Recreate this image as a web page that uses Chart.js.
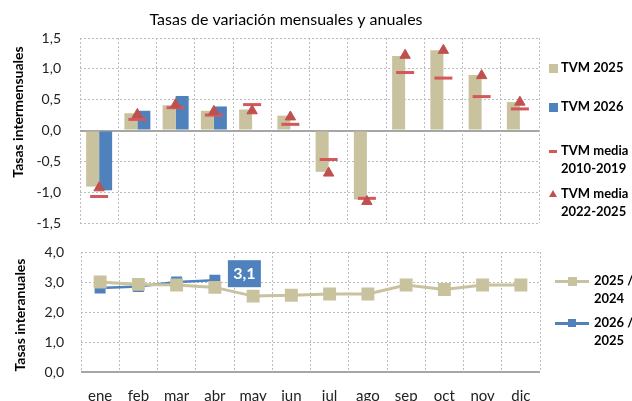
<!DOCTYPE html>
<html>
<head>
<meta charset="utf-8">
<script src="https://cdn.jsdelivr.net/npm/chart.js@4"></script>
<style>
  body { margin: 0; width: 632px; height: 401px; overflow: hidden; background: #fff; position: relative; }
  canvas { position: absolute; left: 0; }
</style>
</head>
<body>
<canvas id="chart1" width="632" height="235" style="top:0"></canvas>
<canvas id="chart2" width="632" height="175" style="top:235px"></canvas>
<script>
const months = ['ene', 'feb', 'mar', 'abr', 'may', 'jun', 'jul', 'ago', 'sep', 'oct', 'nov', 'dic'];

// tasas intermensuales
const tvm2025 = [-0.91, 0.28, 0.41, 0.32, 0.34, 0.24, -0.67, -1.12, 1.21, 1.30, 0.90, 0.46];
const tvm2026 = [-0.97, 0.32, 0.56, 0.39];
const tvmMedia1019 = [-1.07, 0.18, 0.37, 0.25, 0.42, 0.10, -0.47, -1.10, 0.94, 0.85, 0.55, 0.35];
const tvmMedia2225 = [-0.93, 0.26, 0.42, 0.31, 0.32, 0.22, -0.69, -1.15, 1.22, 1.30, 0.89, 0.46];

// tasas interanuales
const tia2025 = [3.0, 2.92, 2.9, 2.82, 2.53, 2.56, 2.6, 2.6, 2.9, 2.75, 2.9, 2.9];
const tia2026 = [2.8, 2.85, 3.0, 3.06];

const beige = '#c9c29e';
const azul = '#4f81bd';
const rojo = '#c0504d';
const rojoClaro = '#d4575a';
const gridCol = '#bcbcbc';

Chart.defaults.font.family = 'Lato';

const fmt = (v) => v.toFixed(1).replace('.', ',');
const isZero = (c) => c.tick && c.tick.value === 0;

// textos: titulo, titulo del eje y leyenda, pintados en el canvas
function texto(ctx, s, x, y, font, align) {
  ctx.font = font;
  ctx.fillStyle = '#000';
  ctx.textAlign = align || 'left';
  ctx.textBaseline = 'middle';
  ctx.fillText(s, x, y);
}
function tituloY(ctx, s, x, y) {
  ctx.save();
  ctx.translate(x, y);
  ctx.rotate(-Math.PI / 2);
  texto(ctx, s, 0, 0, 'bold 14px Lato', 'center');
  ctx.restore();
}

const textos1 = {
  id: 'textos1',
  afterDraw(chart) {
    const ctx = chart.ctx;
    ctx.save();
    texto(ctx, 'Tasas de variación mensuales y anuales', 286, 20, '16px Lato', 'center');
    tituloY(ctx, 'Tasas intermensuales', 18, 112);
    const f = 'bold 13px Lato';
    ctx.fillStyle = beige; ctx.fillRect(549, 64, 9, 9);
    texto(ctx, 'TVM 2025', 561, 68, f);
    ctx.fillStyle = azul; ctx.fillRect(549, 103, 9, 9);
    texto(ctx, 'TVM 2026', 561, 107, f);
    ctx.fillStyle = rojoClaro; ctx.fillRect(549, 150, 8, 3);
    texto(ctx, 'TVM media', 561, 151, f);
    texto(ctx, '2010-2019', 561, 169, f);
    ctx.fillStyle = rojo;
    ctx.beginPath(); ctx.moveTo(553, 190); ctx.lineTo(557, 197); ctx.lineTo(549, 197); ctx.closePath(); ctx.fill();
    texto(ctx, 'TVM media', 561, 194, f);
    texto(ctx, '2022-2025', 561, 212, f);
    ctx.restore();
  }
};

const textos2 = {
  id: 'textos2',
  afterDraw(chart) {
    const ctx = chart.ctx;
    ctx.save();
    tituloY(ctx, 'Tasas interanuales', 20, 80);
    const f = 'bold 13px Lato';
    ctx.fillStyle = beige; ctx.fillRect(555, 45, 34, 3); ctx.fillRect(568, 42, 9, 9);
    texto(ctx, '2025 /', 594, 46, f);
    texto(ctx, '2024', 594, 64, f);
    ctx.fillStyle = azul; ctx.fillRect(555, 87, 34, 3); ctx.fillRect(568, 84, 8, 8);
    texto(ctx, '2026 /', 594, 88, f);
    texto(ctx, '2025', 594, 106, f);
    ctx.restore();
  }
};

// etiqueta del ultimo dato 2026
const etiqueta = {
  id: 'etiqueta',
  afterDatasetsDraw(chart) {
    const meta = chart.getDatasetMeta(1);
    const i = tia2026.length - 1;
    const p = meta.data[i];
    const ctx = chart.ctx;
    ctx.save();
    ctx.fillStyle = azul;
    ctx.fillRect(p.x + 13, p.y - 20, 33, 27);
    ctx.fillStyle = '#fff';
    ctx.font = 'bold 16px Lato';
    ctx.textAlign = 'center';
    ctx.textBaseline = 'middle';
    ctx.fillText(fmt(tia2026[i]), p.x + 29.5, p.y - 6);
    ctx.restore();
  }
};

new Chart(document.getElementById('chart1'), {
  type: 'bar',
  data: {
    labels: months,
    datasets: [
      {
        type: 'line', label: 'TVM media 2022-2025', data: tvmMedia2225, showLine: false,
        pointStyle: 'triangle', pointRadius: 6, borderWidth: 1,
        borderColor: rojo, backgroundColor: rojo
      },
      {
        type: 'line', label: 'TVM media 2010-2019', data: tvmMedia1019, showLine: false,
        pointStyle: 'line', pointRadius: 9, borderWidth: 3, borderColor: rojoClaro
      },
      { label: 'TVM 2025', data: tvm2025, backgroundColor: beige },
      { label: 'TVM 2026', data: tvm2026, backgroundColor: azul }
    ]
  },
  options: {
    responsive: false,
    animation: false,
    categoryPercentage: 0.68,
    barPercentage: 1.0,
    layout: { padding: { top: 38, right: 93, bottom: 11, left: 0 } },
    plugins: { legend: { display: false }, tooltip: { enabled: false } },
    scales: {
      x: {
        ticks: { display: false },
        grid: { color: gridCol, offset: true, drawTicks: false },
        border: { display: false, dash: [2, 2] }
      },
      y: {
        min: -1.5, max: 1.5,
        afterFit: (s) => { s.width = 80; s.paddingTop = 0; s.paddingBottom = 0; },
        ticks: { stepSize: 0.5, padding: 19, color: '#222', font: { size: 14 }, callback: (v) => fmt(v) },
        grid: {
          color: (c) => (isZero(c) ? '#a6a6a6' : gridCol),
          lineWidth: (c) => (isZero(c) ? 2 : 1),
          drawTicks: false
        },
        border: { display: false, dash: (c) => (isZero(c) ? [] : [2, 2]) }
      }
    }
  },
  plugins: [textos1]
});

new Chart(document.getElementById('chart2'), {
  type: 'line',
  data: {
    labels: months,
    datasets: [
      {
        label: '2025 / 2024', data: tia2025, borderColor: beige, backgroundColor: beige,
        borderWidth: 3, pointStyle: 'rect', pointRadius: 7, tension: 0
      },
      {
        label: '2026 / 2025', data: tia2026, borderColor: azul, backgroundColor: azul,
        borderWidth: 2.5, pointStyle: 'rect', pointRadius: 6, tension: 0
      }
    ]
  },
  options: {
    responsive: false,
    animation: false,
    layout: { padding: { top: 17, right: 92, bottom: 8, left: 0 } },
    plugins: { legend: { display: false }, tooltip: { enabled: false } },
    scales: {
      x: {
        offset: true,
        afterFit: (s) => { s.height = 30; },
        ticks: { padding: 15, color: '#222', font: { size: 15 } },
        grid: { color: gridCol, offset: true, drawTicks: false },
        border: { display: false, dash: [2, 2] }
      },
      y: {
        min: 0, max: 4,
        afterFit: (s) => { s.width = 81; s.paddingTop = 0; s.paddingBottom = 0; },
        ticks: { stepSize: 1, padding: 17, color: '#222', font: { size: 14 }, callback: (v) => fmt(v) },
        grid: {
          color: (c) => (isZero(c) ? '#a6a6a6' : gridCol),
          lineWidth: (c) => (isZero(c) ? 2 : 1),
          drawTicks: false
        },
        border: { display: false, dash: (c) => (isZero(c) ? [] : [2, 2]) }
      }
    }
  },
  plugins: [etiqueta, textos2]
});
</script>
</body>
</html>
